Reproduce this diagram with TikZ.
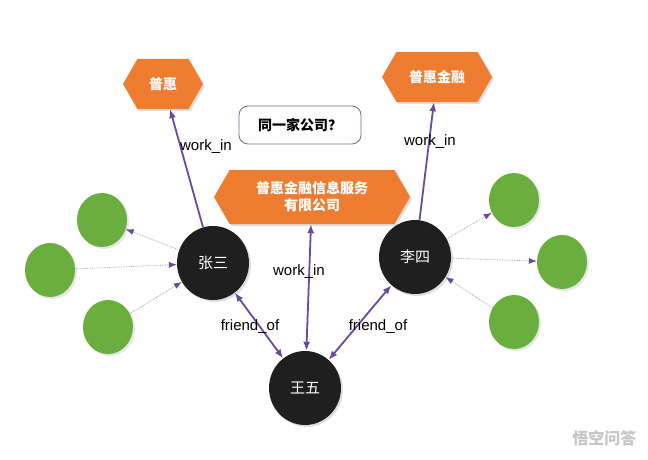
\documentclass[tikz,border=0pt]{standalone}
\usepackage{fontspec}
\setmainfont{Liberation Sans}
\newfontfamily\cjk{Noto Sans CJK SC}
\usetikzlibrary{shapes.symbols,shapes.geometric,shadows,arrows.meta}
\definecolor{org}{HTML}{EE7D31}
\definecolor{grn}{HTML}{6AAF3D}
\definecolor{pur}{HTML}{6A4AA0}
\tikzset{
 hexa/.style={signal, signal to=east and west, signal pointer angle=120, fill=org, text=white, font=\cjk\bfseries\fontsize{14}{17}\selectfont, minimum height=50pt, inner xsep=4pt, drop shadow={opacity=0.25,shadow xshift=2pt,shadow yshift=-2pt}},
 person/.style={ellipse, fill=black!88, text=white, font=\cjk\fontsize{15}{17}\selectfont, minimum width=72pt, minimum height=74pt, inner sep=0pt, drop shadow={opacity=0.25,shadow xshift=2pt,shadow yshift=-2pt}},
 leaf/.style={ellipse, fill=grn, minimum width=50pt, minimum height=54pt, drop shadow={opacity=0.2,shadow xshift=2pt,shadow yshift=-2pt}},
 rel/.style={pur, line width=1.8pt, -{Latex[length=9pt,width=7pt]}},
 rel2/.style={rel, {Latex[length=9pt,width=7pt]}-{Latex[length=9pt,width=7pt]}},
 weak/.style={gray!80, densely dotted, line width=0.7pt, -{Latex[length=8pt,width=6pt,fill=pur,color=pur]}},
 lab/.style={font=\fontsize{15}{17}\selectfont, text=black, inner sep=1pt},
}
\begin{document}
\begin{tikzpicture}[x=1pt,y=-1pt]
\useasboundingbox (0,0) rectangle (648,460);
\node[hexa, minimum width=80pt] (ph) at (163,84) {普惠};
\node[hexa, minimum width=110pt] (phjr) at (437,77) {普惠金融};
\node[hexa, minimum width=196pt, minimum height=54pt, align=center, font=\cjk\bfseries\fontsize{14}{17}\selectfont] (co) at (312,197) {普惠金融信息服务\\有限公司};
\node[draw=pur!50!gray, rounded corners=9pt, line width=0.8pt, minimum width=122pt, minimum height=38pt, font=\cjk\bfseries\fontsize{14}{16}\selectfont] (q) at (300,125) {同一家公司？};
\node[person] (zs) at (213,263) {张三};
\node[person] (ls) at (415,257) {李四};
\node[person] (ww) at (305,388) {王五};
\node[leaf] (g1) at (102,220) {};
\node[leaf] (g2) at (50,270) {};
\node[leaf] (g3) at (108,327) {};
\node[leaf] (g4) at (514,200) {};
\node[leaf] (g5) at (562,262) {};
\node[leaf] (g6) at (514,322) {};
\draw[rel] (zs) -- (ph);
\node[lab] (wl1) at (206,147) {work\_in};
\draw[rel] (ls) -- (phjr);
\node[lab] (wl2) at (430,142) {work\_in};
\draw[rel2] (ww) -- (co);
\node[lab] (wl) at (299,272) {work\_in};
\draw[rel2] (zs) -- (ww);
\draw[rel2] (ls) -- (ww);
\node[lab] (f1) at (250,327) {friend\_of};
\node[lab] (f2) at (378,327) {friend\_of};
\draw[weak] (zs) -- (g1);
\draw[weak] (g2) -- (zs);
\draw[weak] (g3) -- (zs);
\draw[weak] (ls) -- (g4);
\draw[weak] (ls) -- (g5);
\draw[weak] (g6) -- (ls);
\node[text=gray!45, font=\cjk\bfseries\fontsize{16}{18}\selectfont, anchor=east] (wm) at (640,438) {悟空问答};
\end{tikzpicture}
\end{document}
